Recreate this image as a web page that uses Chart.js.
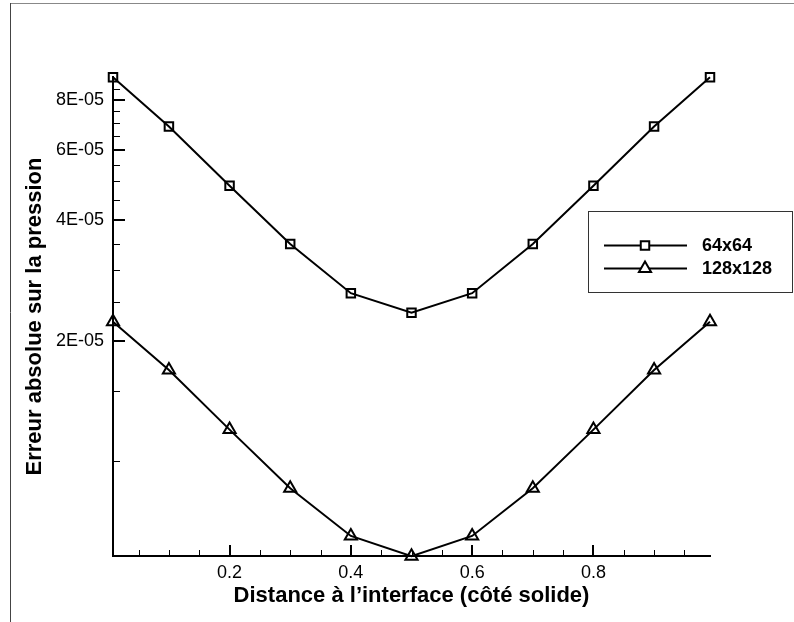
<!DOCTYPE html>
<html>
<head>
<meta charset="utf-8">
<script src="https://cdn.jsdelivr.net/npm/chart.js@4/dist/chart.umd.min.js"></script>
<style>
  html, body { margin: 0; padding: 0; background: #fff; }
  canvas { display: block; }
</style>
</head>
<body>
<canvas id="myChart" width="794" height="622"></canvas>
<script>
// distance from interface (solid side)
const xValues = [0.0078, 0.1, 0.2, 0.3, 0.4, 0.5, 0.6, 0.7, 0.8, 0.9, 0.9922];
// absolute pressure error
const err64 = [9.11e-5, 6.86e-5, 4.88e-5, 3.49e-5, 2.63e-5, 2.35e-5, 2.63e-5, 3.49e-5, 4.88e-5, 6.86e-5, 9.11e-5];
const err128 = [2.23e-5, 1.69e-5, 1.20e-5, 8.56e-6, 6.51e-6, 5.79e-6, 6.51e-6, 8.56e-6, 1.20e-5, 1.69e-5, 2.23e-5];
const seriesNames = ['64x64', '128x128'];

const xMajorTicks = [0.2, 0.4, 0.6, 0.8];
const xTickLabels = ['0.2', '0.4', '0.6', '0.8'];
const xMinorTicks = [0.05, 0.1, 0.15, 0.25, 0.3, 0.35, 0.45, 0.5, 0.55, 0.65, 0.7, 0.75, 0.85, 0.9, 0.95];
const yMajorTicks = [2e-5, 4e-5, 6e-5, 8e-5];
const yTickLabels = ['2E-05', '4E-05', '6E-05', '8E-05'];
const yMinorTicks = [1e-5, 1.5e-5, 2.5e-5, 3e-5, 3.5e-5, 4.5e-5, 5e-5, 5.5e-5, 6.5e-5, 7e-5, 7.5e-5, 8.5e-5];

const FONT = "'Liberation Sans', Arial, Helvetica, sans-serif";

function pts(ys) {
    return xValues.map((x, i) => ({x: x, y: ys[i]}));
}

// frame, inward tick marks, boxed legend
const decor = {
    id: 'decor',
    beforeDraw(chart) {
        const c = chart.ctx;
        c.save();
        c.fillStyle = '#fff';
        c.fillRect(0, 0, chart.width, chart.height);
        c.lineWidth = 1;
        c.strokeStyle = '#888';
        c.beginPath(); c.moveTo(10, 3.5); c.lineTo(chart.width, 3.5); c.stroke();
        c.strokeStyle = '#444';
        c.beginPath(); c.moveTo(10.5, 3); c.lineTo(10.5, chart.height); c.stroke();
        c.restore();
    },
    afterDraw(chart) {
        const c = chart.ctx;
        const xs = chart.scales.x, ys = chart.scales.y;
        const a = chart.chartArea;
        c.save();
        c.strokeStyle = '#000';
        c.lineWidth = 2;
        xMajorTicks.forEach(v => {
            const px = Math.round(xs.getPixelForValue(v));
            c.beginPath(); c.moveTo(px, a.bottom); c.lineTo(px, a.bottom - 11); c.stroke();
        });
        yMajorTicks.forEach(v => {
            const py = Math.round(ys.getPixelForValue(v));
            c.beginPath(); c.moveTo(a.left, py); c.lineTo(a.left + 12, py); c.stroke();
        });
        c.lineWidth = 1;
        xMinorTicks.forEach(v => {
            const px = Math.round(xs.getPixelForValue(v)) + 0.5;
            c.beginPath(); c.moveTo(px, a.bottom); c.lineTo(px, a.bottom - 6); c.stroke();
        });
        yMinorTicks.forEach(v => {
            const py = Math.round(ys.getPixelForValue(v)) + 0.5;
            c.beginPath(); c.moveTo(a.left, py); c.lineTo(a.left + 7, py); c.stroke();
        });

        // legend
        c.strokeStyle = '#333';
        c.lineWidth = 1;
        c.strokeRect(588.5, 211.5, 204, 81);
        const rows = [245.5, 268.5];
        chart.data.datasets.forEach((ds, i) => {
            const y = rows[i];
            c.strokeStyle = '#000';
            c.lineWidth = 2;
            c.beginPath(); c.moveTo(604, y); c.lineTo(687, y); c.stroke();
            c.fillStyle = '#fff';
            Chart.helpers.drawPoint(c, {
                pointStyle: ds.pointStyle, radius: ds.pointRadius,
                borderWidth: ds.borderWidth, rotation: 0
            }, 645, y);
            c.fillStyle = '#000';
            c.font = 'bold 18px ' + FONT;
            c.textBaseline = 'middle';
            c.textAlign = 'left';
            c.fillText(ds.label, 702, y + 1);
        });
        c.restore();
    }
};

const ctx = document.getElementById('myChart').getContext('2d');

const graphData = {
    type: 'line',
    data: {
        datasets: [{
            label: seriesNames[0],
            data: pts(err64),
            borderColor: '#000',
            borderWidth: 2,
            pointStyle: 'rect',
            pointRadius: 6,
            pointBorderColor: '#000',
            pointBackgroundColor: 'rgba(0,0,0,0)',
            pointBorderWidth: 2,
            tension: 0,
            clip: false
        }, {
            label: seriesNames[1],
            data: pts(err128),
            borderColor: '#000',
            borderWidth: 2,
            pointStyle: 'triangle',
            pointRadius: 7,
            pointBorderColor: '#000',
            pointBackgroundColor: 'rgba(0,0,0,0)',
            pointBorderWidth: 2,
            tension: 0,
            clip: false
        }]
    },
    options: {
        responsive: false,
        animation: false,
        devicePixelRatio: 1,
        layout: { padding: { top: 77, right: 84, left: 0, bottom: 0 } },
        plugins: { legend: { display: false }, tooltip: { enabled: false } },
        scales: {
            x: {
                type: 'linear',
                min: 0.0078,
                max: 0.9922,
                grid: { display: false, drawTicks: false },
                border: { display: true, color: '#000', width: 2 },
                afterBuildTicks: s => { s.ticks = xMajorTicks.map(v => ({value: v})); },
                afterFit: s => { s.height = 66; },
                ticks: {
                    color: '#000',
                    padding: 6,
                    autoSkip: false,
                    maxRotation: 0,
                    font: { family: FONT, size: 18 },
                    callback: v => xTickLabels[xMajorTicks.indexOf(v)]
                },
                title: {
                    display: true,
                    text: 'Distance à l\u2019interface (côté solide)',
                    color: '#000',
                    font: { family: FONT, size: 22, weight: 'bold' },
                    padding: { top: 0, bottom: 13 }
                }
            },
            y: {
                type: 'logarithmic',
                min: 5.8e-6,
                max: 9.12e-5,
                grid: { display: false, drawTicks: false },
                border: { display: true, color: '#000', width: 2 },
                afterBuildTicks: s => { s.ticks = yMajorTicks.map(v => ({value: v})); },
                afterFit: s => { s.width = 113; },
                ticks: {
                    color: '#000',
                    padding: 9,
                    autoSkip: false,
                    font: { family: FONT, size: 18 },
                    callback: v => yTickLabels[yMajorTicks.indexOf(v)]
                },
                title: {
                    display: true,
                    text: 'Erreur absolue sur la pression',
                    color: '#000',
                    font: { family: FONT, size: 22, weight: 'bold' },
                    padding: { top: 22, bottom: 0 }
                }
            }
        }
    },
    plugins: [decor]
};

const myChart = new Chart(ctx, graphData);
</script>
</body>
</html>
